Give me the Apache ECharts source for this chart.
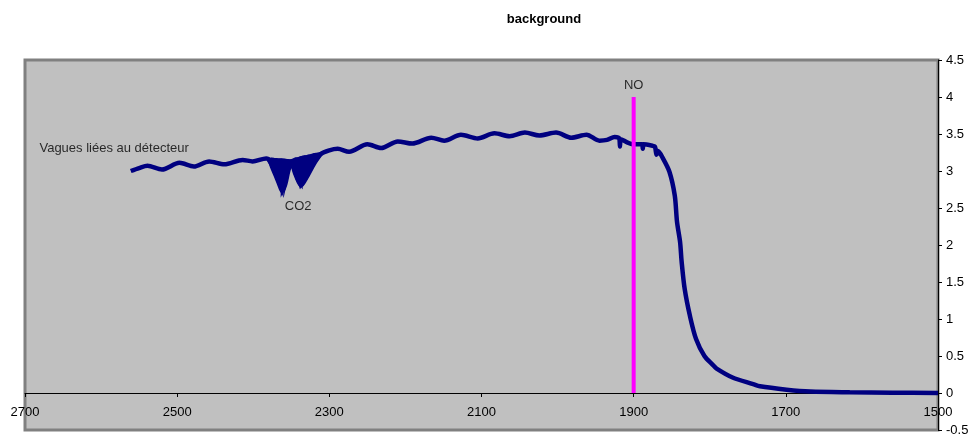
<!DOCTYPE html>
<html><head><meta charset="utf-8">
<script src="https://cdn.jsdelivr.net/npm/echarts@6/dist/echarts.min.js"></script>
<style>html,body{margin:0;padding:0;background:#fff}#c{width:973px;height:436px}</style>
</head><body><div id="c"></div>
<script>
// ---- data ----
const titleText = 'background';
const xTickValues = [2700, 2500, 2300, 2100, 1900, 1700, 1500];
const yMin = -0.5, yMax = 4.5, yStep = 0.5;

// main spectrum (wavenumber, absorbance)
const wavenumbers = [2561, 2550, 2539, 2520, 2497, 2478, 2458, 2438, 2414, 2401, 2383, 2378,
  2375, 2370, 2365, 2362, 2358, 2354, 2350, 2345, 2340, 2337, 2333, 2328, 2320, 2311,
  2300, 2289, 2274, 2250, 2232, 2210, 2191, 2166, 2149, 2127, 2105, 2083, 2063, 2043,
  2024, 2002, 1982, 1962, 1945, 1935, 1925, 1919, 1918, 1917, 1901, 1889, 1888, 1887,
  1875, 1872, 1870, 1868, 1862, 1853, 1846, 1843, 1839, 1837, 1833, 1826, 1818, 1807,
  1796, 1791, 1770, 1743, 1734, 1699, 1668, 1616, 1560, 1500];
const absorbance = [3.00, 3.04, 3.07, 3.02, 3.11, 3.06, 3.13, 3.09, 3.15, 3.13, 3.17, 3.14,
  3.05, 2.93, 2.80, 2.73, 2.82, 3.00, 3.12, 2.97, 2.85, 2.81, 2.86, 2.95, 3.10, 3.23,
  3.28, 3.30, 3.26, 3.36, 3.31, 3.40, 3.37, 3.45, 3.41, 3.49, 3.44, 3.51, 3.47, 3.52,
  3.48, 3.52, 3.45, 3.49, 3.41, 3.42, 3.46, 3.44, 3.33, 3.43, 3.36, 3.36, 3.30, 3.36,
  3.34, 3.33, 3.22, 3.27, 3.18, 2.99, 2.67, 2.31, 2.04, 1.78, 1.41, 1.04, 0.73, 0.50,
  0.38, 0.33, 0.21, 0.12, 0.09, 0.045, 0.02, 0.01, 0.005, 0.0];

// CO2 band: dense rotational structure envelope
const co2Wn    = [2380, 2375, 2370, 2365, 2362, 2358, 2354, 2350, 2345, 2340, 2337, 2333, 2328, 2320, 2311];
const co2Upper = [3.16, 3.16, 3.155, 3.15, 3.15, 3.145, 3.14, 3.14, 3.16, 3.17, 3.18, 3.19, 3.20, 3.22, 3.24];
const co2Lower = [3.14, 3.05, 2.93, 2.80, 2.73, 2.82, 3.00, 3.12, 2.97, 2.85, 2.81, 2.86, 2.95, 3.10, 3.23];

// NO marker line
const noWn = [1900, 1900];
const noVal = [0, 4];

// annotations
const annotTexts = ['Vagues liées au détecteur', 'CO2', 'NO'];
const annotWn    = [2681, 2341, 1900];
const annotVal   = [3.30, 2.52, 4.15];
const annotAlign = ['left', 'center', 'center'];

// ---- chart ----
const FONT = 'Liberation Sans, Arial, sans-serif';
const chart = echarts.init(document.getElementById('c'), null, {renderer: 'canvas'});

const mainData = wavenumbers.map((w, i) => [w, absorbance[i]]);
const co2Data = co2Wn.map((w, i) => [w, co2Upper[i], co2Lower[i]]);
const noData = noWn.map((w, i) => [w, noVal[i]]);
const annotData = annotTexts.map((t, i) => ({value: [annotWn[i], annotVal[i]], name: t,
  label: {align: annotAlign[i]}}));

chart.setOption({
  animation: false,
  backgroundColor: '#ffffff',
  title: {
    text: titleText, left: 539, top: 8, textAlign: 'center',
    textStyle: {fontFamily: FONT, fontSize: 13, fontWeight: 'bold', color: '#000'}
  },
  grid: {
    left: 25, right: 35, top: 60, bottom: 6, show: true,
    outerBoundsMode: 'none', containLabel: false,
    backgroundColor: '#C0C0C0', borderColor: '#808080', borderWidth: 3
  },
  xAxis: [{
    type: 'value', inverse: true, min: 1500, max: 2700,
    splitLine: {show: false},
    axisLine: {show: true, onZero: true, lineStyle: {color: '#000', width: 1}},
    axisTick: {show: true, inside: false, length: 4, customValues: xTickValues, lineStyle: {color: '#000'}},
    axisLabel: {show: false}
  }, {
    type: 'value', inverse: true, min: 1500, max: 2700, position: 'bottom', offset: -29,
    splitLine: {show: false},
    axisLine: {show: false, onZero: false},
    axisTick: {show: false},
    axisLabel: {customValues: xTickValues, margin: 5, color: '#000', fontFamily: FONT, fontSize: 13,
      formatter: v => String(v), showMinLabel: true, showMaxLabel: true}
  }],
  yAxis: {
    type: 'value', position: 'right', min: yMin, max: yMax, interval: yStep,
    splitLine: {show: false},
    axisLine: {show: true, onZero: false, lineStyle: {color: '#000', width: 1}},
    axisTick: {show: true, inside: false, length: 4, lineStyle: {color: '#000'}},
    axisLabel: {margin: 8, color: '#000', fontFamily: FONT, fontSize: 13,
      formatter: v => String(Math.round(v * 10) / 10)}
  },
  series: [
    {
      type: 'custom', name: 'co2band', data: co2Data,
      encode: {x: 0, y: [1, 2]},
      renderItem: function (params, api) {
        const i = params.dataIndex;
        if (i >= co2Wn.length - 1) return null;
        const p1 = api.coord([co2Wn[i], co2Upper[i]]);
        const p2 = api.coord([co2Wn[i + 1], co2Upper[i + 1]]);
        const p3 = api.coord([co2Wn[i + 1], co2Lower[i + 1]]);
        const p4 = api.coord([co2Wn[i], co2Lower[i]]);
        return {type: 'polygon', shape: {points: [p1, p2, p3, p4]},
          style: {fill: '#000080', stroke: '#000080', lineWidth: 3}};
      },
      z: 3
    },
    {
      type: 'line', name: 'spectrum', data: mainData, showSymbol: false,
      smooth: 0.3,
      lineStyle: {color: '#000080', width: 4.5}, itemStyle: {color: '#000080'}, z: 4
    },
    {
      type: 'line', name: 'NO', data: noData, showSymbol: false,
      lineStyle: {color: '#FF00FF', width: 4}, z: 5
    },
    {
      type: 'scatter', name: 'annot', data: annotData, symbolSize: 0, silent: true,
      label: {show: true, position: 'inside', formatter: p => p.name, color: '#000',
        fontFamily: FONT, fontSize: 13, verticalAlign: 'middle'},
      z: 6
    }
  ]
});
</script>
</body></html>
